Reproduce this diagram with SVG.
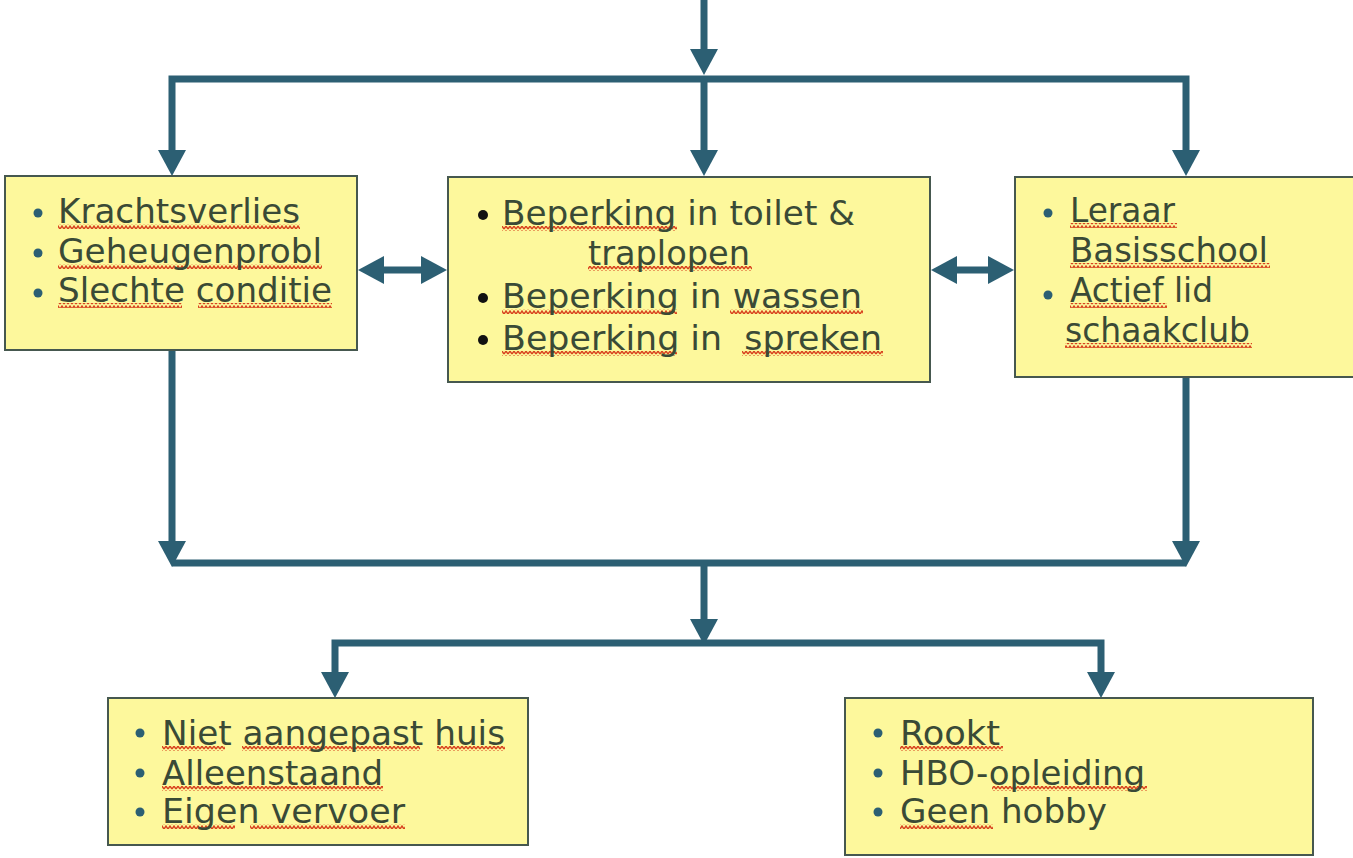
<svg xmlns="http://www.w3.org/2000/svg" width="1353" height="858" viewBox="0 0 1353 858">
<style>
.box{fill:#fdf89c;stroke:#46584f;stroke-width:2}
.t{font-family:"DejaVu Sans","Liberation Sans",sans-serif;font-size:33px;fill:#3a4a36}
.c{fill:none;stroke:#2c5f73;stroke-width:7}
.bl{fill:#2c5f73}
.bk{fill:#111}
.w{fill:url(#wavy)}
</style>
<defs>
<marker id="ah" viewBox="0 0 26 28" refX="16" refY="14" markerWidth="26" markerHeight="28" markerUnits="userSpaceOnUse" orient="auto-start-reverse">
<path d="M0,0 L26,14 L0,28 Z" fill="#2c5f73"/>
</marker>
<pattern id="wavy" width="4" height="5" patternUnits="userSpaceOnUse">
<path d="M0,4 L2,1 L4,4" fill="none" stroke="#d8431f" stroke-width="1.4"/>
</pattern>
</defs>
<rect width="1353" height="858" fill="#ffffff"/>

<g id="connectors">
<path class="c" d="M704,0 V65" marker-end="url(#ah)"/>
<path class="c" d="M172,166 V79 H1186 V166" marker-start="url(#ah)" marker-end="url(#ah)"/>
<path class="c" d="M704,79 V166" marker-end="url(#ah)"/>
<path class="c" d="M368,270 H437" marker-start="url(#ah)" marker-end="url(#ah)"/>
<path class="c" d="M941,270 H1004" marker-start="url(#ah)" marker-end="url(#ah)"/>
<path class="c" d="M172,350 V557" marker-end="url(#ah)"/>
<path class="c" d="M1186,378 V557" marker-end="url(#ah)"/>
<path class="c" d="M172,563 H1186"/>
<path class="c" d="M704,563 V635" marker-end="url(#ah)"/>
<path class="c" d="M335,688 V643 H1101 V688" marker-start="url(#ah)" marker-end="url(#ah)"/>
</g>

<g id="node-left">
<rect class="box" x="5" y="176" width="352" height="174"/>
<circle class="bl" cx="38" cy="213" r="4.5"/>
<circle class="bl" cx="38" cy="253" r="4.5"/>
<circle class="bl" cx="38" cy="293" r="4.5"/>
<rect class="w" x="58" y="224" width="242" height="5"/>
<rect class="w" x="58" y="264" width="264" height="5"/>
<rect class="w" x="58" y="303" width="124" height="5"/>
<rect class="w" x="198" y="303" width="134" height="5"/>
<text class="t" x="58" y="223" textLength="242" lengthAdjust="spacingAndGlyphs">Krachtsverlies</text>
<text class="t" x="58" y="263" textLength="264" lengthAdjust="spacingAndGlyphs">Geheugenprobl</text>
<text class="t" x="58" y="302" textLength="274" lengthAdjust="spacingAndGlyphs">Slechte conditie</text>
</g>

<g id="node-middle">
<rect class="box" x="448" y="177" width="482" height="205"/>
<circle class="bk" cx="483" cy="215" r="5"/>
<circle class="bk" cx="483" cy="298" r="5"/>
<circle class="bk" cx="483" cy="340" r="5"/>
<rect class="w" x="502" y="226" width="175" height="5"/>
<rect class="w" x="588" y="266" width="164" height="5"/>
<rect class="w" x="502" y="309" width="175" height="5"/>
<rect class="w" x="730" y="309" width="133" height="5"/>
<rect class="w" x="502" y="351" width="175" height="5"/>
<rect class="w" x="742" y="351" width="141" height="5"/>
<text class="t" x="502" y="225" textLength="353" lengthAdjust="spacingAndGlyphs">Beperking in toilet &amp;</text>
<text class="t" x="588" y="265" textLength="162" lengthAdjust="spacingAndGlyphs">traplopen</text>
<text class="t" x="502" y="308" textLength="360" lengthAdjust="spacingAndGlyphs">Beperking in wassen</text>
<text class="t" x="502" y="350" textLength="380" lengthAdjust="spacingAndGlyphs" xml:space="preserve">Beperking in  spreken</text>
</g>

<g id="node-right">
<rect class="box" x="1015" y="177" width="350" height="200"/>
<circle class="bl" cx="1048" cy="213" r="4.5"/>
<circle class="bl" cx="1048" cy="295" r="4.5"/>
<rect class="w" x="1070" y="223" width="107" height="5"/>
<rect class="w" x="1070" y="263" width="200" height="5"/>
<rect class="w" x="1070" y="303" width="97" height="5"/>
<rect class="w" x="1065" y="343" width="187" height="5"/>
<text class="t" x="1070" y="222" textLength="105" lengthAdjust="spacingAndGlyphs">Leraar</text>
<text class="t" x="1070" y="262" textLength="198" lengthAdjust="spacingAndGlyphs">Basisschool</text>
<text class="t" x="1070" y="302" textLength="143" lengthAdjust="spacingAndGlyphs">Actief lid</text>
<text class="t" x="1065" y="342" textLength="185" lengthAdjust="spacingAndGlyphs">schaakclub</text>
</g>

<g id="node-bottom-left">
<rect class="box" x="108" y="698" width="420" height="147"/>
<circle class="bl" cx="140" cy="733" r="4.5"/>
<circle class="bl" cx="140" cy="773" r="4.5"/>
<circle class="bl" cx="140" cy="812" r="4.5"/>
<rect class="w" x="162" y="746" width="63" height="5"/>
<rect class="w" x="242" y="746" width="178" height="5"/>
<rect class="w" x="437" y="746" width="68" height="5"/>
<rect class="w" x="162" y="786" width="221" height="5"/>
<rect class="w" x="162" y="824" width="73" height="5"/>
<rect class="w" x="250" y="824" width="155" height="5"/>
<text class="t" x="162" y="745" textLength="343" lengthAdjust="spacingAndGlyphs">Niet aangepast huis</text>
<text class="t" x="162" y="785" textLength="221" lengthAdjust="spacingAndGlyphs">Alleenstaand</text>
<text class="t" x="162" y="823" textLength="243" lengthAdjust="spacingAndGlyphs">Eigen vervoer</text>
</g>

<g id="node-bottom-right">
<rect class="box" x="845" y="698" width="468" height="157"/>
<circle class="bl" cx="878" cy="733" r="4.5"/>
<circle class="bl" cx="878" cy="773" r="4.5"/>
<circle class="bl" cx="878" cy="812" r="4.5"/>
<rect class="w" x="900" y="746" width="103" height="5"/>
<rect class="w" x="992" y="786" width="155" height="5"/>
<rect class="w" x="900" y="824" width="93" height="5"/>
<text class="t" x="900" y="745" textLength="100" lengthAdjust="spacingAndGlyphs">Rookt</text>
<text class="t" x="900" y="785" textLength="245" lengthAdjust="spacingAndGlyphs">HBO-opleiding</text>
<text class="t" x="900" y="823" textLength="207" lengthAdjust="spacingAndGlyphs">Geen hobby</text>
</g>
</svg>
